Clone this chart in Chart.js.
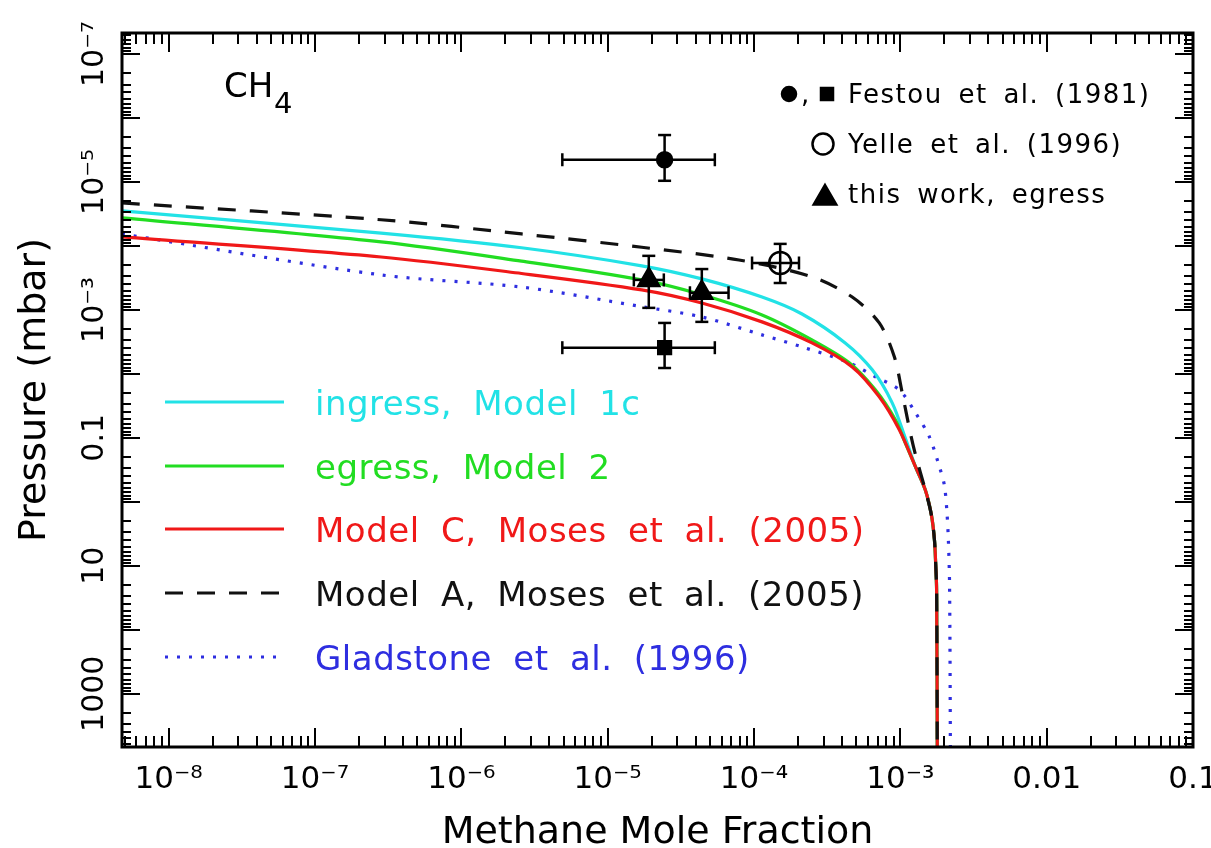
<!DOCTYPE html>
<html>
<head>
<meta charset="utf-8">
<title>CH4 profiles</title>
<script src="https://cdn.jsdelivr.net/npm/chart.js@4.4.1/dist/chart.umd.min.js"></script>
<style>
  html, body { margin: 0; padding: 0; background: #fff; }
  #wrap { width: 1211px; height: 848px; }
</style>
</head>
<body>
<div id="wrap"><canvas id="ch4" width="1211" height="848"></canvas></div>
<script>
// model profiles: methane mole fraction (x) against pressure in mbar (y)
const ingressX = [4.8e-9, 2.83e-7, 2.58e-6, 1.71e-5, 4.4e-5, 1.135e-4, 2.13e-4, 4.2e-4, 6.43e-4, 8.8e-4, 1.08e-3, 1.27e-3, 1.48e-3, 1.63e-3, 1.71e-3, 1.745e-3, 1.77e-3, 1.79e-3];
const ingressP = [2.84e-5, 6.3e-5, 1.07e-4, 2.05e-4, 3.28e-4, 6.3e-4, 1.16e-3, 3.28e-3, 8.66e-3, 0.0284, 0.1, 0.284, 0.65, 1.6, 3.9, 9.6, 23.7, 1e4];

const egressX = [4.8e-9, 2.83e-7, 2.58e-6, 1.71e-5, 4.4e-5, 1.135e-4, 2.49e-4, 4.48e-4, 6.75e-4, 9.25e-4, 1.08e-3, 1.27e-3, 1.48e-3, 1.63e-3, 1.71e-3, 1.745e-3, 1.77e-3, 1.79e-3];
const egressP = [3.65e-5, 8.66e-5, 1.73e-4, 3.4e-4, 5.8e-4, 1.2e-3, 2.94e-3, 6.7e-3, 0.0178, 0.0523, 0.12, 0.284, 0.65, 1.6, 3.9, 9.6, 23.7, 1e4];

const modelCX = [4.8e-9, 2.83e-7, 2.58e-6, 1.71e-5, 4.4e-5, 1.135e-4, 2.49e-4, 4.69e-4, 7.18e-4, 9.84e-4, 1.27e-3, 1.48e-3, 1.63e-3, 1.71e-3, 1.745e-3, 1.77e-3, 1.79e-3];
const modelCP = [7.2e-5, 1.49e-4, 2.7e-4, 4.87e-4, 7.8e-4, 1.54e-3, 3.28e-3, 7.8e-3, 0.0229, 0.075, 0.284, 0.65, 1.6, 3.9, 9.6, 23.7, 1e4];

const modelAX = [4.8e-9, 2.83e-7, 2.58e-6, 1.71e-5, 7.9e-5, 2.49e-4, 4.69e-4, 7.18e-4, 9.1e-4, 1.03e-3, 1.17e-3, 1.27e-3, 1.48e-3, 1.63e-3, 1.71e-3, 1.745e-3, 1.77e-3, 1.79e-3];
const modelAP = [2.13e-5, 3.9e-5, 6.5e-5, 1.05e-4, 1.66e-4, 3.05e-4, 6.3e-4, 1.6e-3, 5.4e-3, 0.0198, 0.0835, 0.185, 0.65, 1.6, 3.9, 9.6, 23.7, 1e4];

const gladX = [4.8e-9, 2.83e-7, 2.58e-6, 1.71e-5, 4.4e-5, 1.135e-4, 2.13e-4, 4.48e-4, 6.75e-4, 9.84e-4, 1.27e-3, 1.58e-3, 1.85e-3, 2.0e-3, 2.08e-3, 2.13e-3, 2.17e-3, 2.2e-3];
const gladP = [6.5e-5, 2.84e-4, 4.4e-4, 8.9e-4, 1.29e-3, 2.46e-3, 3.79e-3, 6.7e-3, 0.0111, 0.0178, 0.0407, 0.0964, 0.284, 0.55, 1.4, 4, 20, 1e4];

const curveNames = ['ingress, Model 1c', 'egress, Model 2', 'Model C, Moses et al. (2005)', 'Model A, Moses et al. (2005)', 'Gladstone et al. (1996)'];

// measurements with error bars
const festouX = [2.45e-5, 2.45e-5];
const festouP = [4.5e-6, 3.9e-3];
const festouXLo = [4.9e-6, 4.9e-6];
const festouXHi = [5.4e-5, 5.4e-5];
const festouPLo = [1.85e-6, 1.6e-3];
const festouPHi = [9.6e-6, 8.1e-3];

const yelleX = [1.51e-4];
const yelleP = [1.85e-4];
const yelleXLo = [9.7e-5];
const yelleXHi = [2.03e-4];
const yellePLo = [9.3e-5];
const yellePHi = [3.8e-4];

const egressObsX = [1.91e-5, 4.4e-5];
const egressObsP = [3.4e-4, 5.4e-4];
const egressObsXLo = [1.51e-5, 3.65e-5];
const egressObsXHi = [2.42e-5, 6.7e-5];
const egressObsPLo = [1.43e-4, 2.3e-4];
const egressObsPHi = [9.3e-4, 1.54e-3];

const xTickValues = [1e-8, 1e-7, 1e-6, 1e-5, 1e-4, 1e-3, 0.01, 0.1];
const xTickLabels = ['10⁻⁸', '10⁻⁷', '10⁻⁶', '10⁻⁵', '10⁻⁴', '10⁻³', '0.01', '0.1'];
const yTickValues = [1e-7, 1e-5, 1e-3, 0.1, 10, 1000];
const yTickLabels = ['10⁻⁷', '10⁻⁵', '10⁻³', '0.1', '10', '1000'];

const FONT = "'DejaVu Sans', 'Liberation Sans', sans-serif";

function pts(xs, ps) {
  return xs.map((x, i) => ({x: x, y: ps[i]}));
}

// lower order is painted on top: dashed Model A over Model C over the rest
function curve(name, xs, ps, color, dash, order) {
  return {
    label: name, data: pts(xs, ps), showLine: true, order: order,
    borderColor: color, borderWidth: 3.2, borderDash: dash, tension: 0.3,
    pointRadius: 0, pointHoverRadius: 0
  };
}

const barStyle = {
  showLine: true, order: 1, borderColor: '#000', borderWidth: 2.5,
  pointStyle: 'line', pointRadius: 6.5, pointHoverRadius: 6.5,
  pointBorderColor: '#000', pointBorderWidth: 2.5
};

function errorBars(xs, ps, xLo, xHi, pLo, pHi) {
  const out = [];
  xs.forEach((x, i) => {
    out.push(Object.assign({data: [{x: xLo[i], y: ps[i]}, {x: xHi[i], y: ps[i]}], pointRotation: 90}, barStyle));
    out.push(Object.assign({data: [{x: x, y: pLo[i]}, {x: x, y: pHi[i]}], pointRotation: 0}, barStyle));
  });
  return out;
}

function markers(data, style, radius, fill) {
  return {
    data: data, showLine: false, order: 0, pointStyle: style,
    pointRadius: radius, pointHoverRadius: radius,
    pointBackgroundColor: fill, pointBorderColor: '#000', pointBorderWidth: 2.5
  };
}

const curves = [
  curve(curveNames[0], ingressX, ingressP, '#22e2e6', [], 5),
  curve(curveNames[1], egressX, egressP, '#22dd22', [], 4),
  curve(curveNames[2], modelCX, modelCP, '#f01818', [], 3),
  curve(curveNames[3], modelAX, modelAP, '#111111', [18, 14], 2),
  curve(curveNames[4], gladX, gladP, '#2e2ee0', [3, 9], 6)
];

const datasets = [
  markers([pts(festouX, festouP)[0]], 'circle', 7.5, '#000'),
  markers([pts(festouX, festouP)[1]], 'rect', 9, '#000'),
  markers(pts(yelleX, yelleP), 'circle', 11, 'rgba(0,0,0,0)'),
  markers(pts(egressObsX, egressObsP), 'triangle', 12, '#000')
].concat(
  errorBars(festouX, festouP, festouXLo, festouXHi, festouPLo, festouPHi),
  errorBars(yelleX, yelleP, yelleXLo, yelleXHi, yellePLo, yellePHi),
  errorBars(egressObsX, egressObsP, egressObsXLo, egressObsXHi, egressObsPLo, egressObsPHi),
  curves
);

// frame and inward tick marks on all four sides
const frameTicks = {
  id: 'frameTicks',
  afterDatasetsDraw(chart) {
    const {ctx, chartArea: a, scales: {x, y}} = chart;
    ctx.save();
    ctx.strokeStyle = '#000';
    ctx.lineWidth = 2;
    ctx.beginPath();
    for (let e = -9; e <= 0; e++) {
      for (let m = 1; m < 10; m++) {
        const v = m * Math.pow(10, e);
        if (v < x.min * 0.9999 || v > x.max * 1.0001) continue;
        const px = Math.round(x.getPixelForValue(v));
        const len = m === 1 ? 19 : 11;
        ctx.moveTo(px, a.bottom); ctx.lineTo(px, a.bottom - len);
        ctx.moveTo(px, a.top); ctx.lineTo(px, a.top + len);
      }
    }
    for (let e = -8; e <= 4; e++) {
      for (let m = 1; m < 10; m++) {
        const v = m * Math.pow(10, e);
        if (v < y.min * 0.9999 || v > y.max * 1.0001) continue;
        const py = Math.round(y.getPixelForValue(v));
        const len = m === 1 ? 18 : 9;
        ctx.moveTo(a.left, py); ctx.lineTo(a.left + len, py);
        ctx.moveTo(a.right, py); ctx.lineTo(a.right - len, py);
      }
    }
    ctx.stroke();
    ctx.lineWidth = 3;
    ctx.strokeRect(a.left, a.top, a.right - a.left, a.bottom - a.top);
    ctx.restore();
  }
};

// in-plot keys and the species label
const keys = {
  id: 'keys',
  afterDraw(chart) {
    const ctx = chart.ctx;
    ctx.save();

    ctx.fillStyle = '#000';
    ctx.textBaseline = 'alphabetic';
    ctx.font = '34px ' + FONT;
    ctx.fillText('CH', 224, 97);
    ctx.font = '29px ' + FONT;
    ctx.fillText('4', 274, 113);

    // model curves key
    const rows = [402, 466, 529, 593, 657];
    ctx.font = '34px ' + FONT;
    if ('wordSpacing' in ctx) ctx.wordSpacing = '10px';
    if ('letterSpacing' in ctx) ctx.letterSpacing = '0.5px';
    curves.forEach((ds, i) => {
      ctx.strokeStyle = ds.borderColor;
      ctx.lineWidth = ds.borderWidth;
      ctx.setLineDash(ds.borderDash);
      ctx.beginPath();
      ctx.moveTo(165, rows[i]);
      ctx.lineTo(284, rows[i]);
      ctx.stroke();
      ctx.fillStyle = ds.borderColor;
      ctx.fillText(ds.label, 315, rows[i] + 12.5);
    });
    ctx.setLineDash([]);

    // observations key
    const dot = Chart.helpers.drawPoint;
    const mk = (style, r, fill, px, py) => {
      ctx.fillStyle = fill;
      ctx.strokeStyle = '#000';
      ctx.lineWidth = 2.5;
      dot(ctx, {pointStyle: style, radius: r, rotation: 0, borderWidth: 2.5}, px, py);
    };
    mk('circle', 7, '#000', 789, 94);
    mk('rect', 8.5, '#000', 827, 94);
    mk('circle', 10.5, 'rgba(0,0,0,0)', 823, 144);
    mk('triangle', 13, '#000', 825, 198);
    ctx.fillStyle = '#000';
    ctx.font = '26px ' + FONT;
    if ('wordSpacing' in ctx) ctx.wordSpacing = '6px';
    if ('letterSpacing' in ctx) ctx.letterSpacing = '1.5px';
    ctx.fillText(',', 801, 103);
    ctx.fillText('Festou et al. (1981)', 848, 103);
    ctx.fillText('Yelle et al. (1996)', 848, 153);
    ctx.fillText('this work, egress', 848, 203);
    ctx.restore();
  }
};

new Chart(document.getElementById('ch4'), {
  type: 'scatter',
  data: {datasets: datasets},
  options: {
    responsive: false,
    animation: false,
    events: [],
    layout: {padding: {top: 33, right: 18, bottom: 0, left: 0}},
    plugins: {legend: {display: false}, tooltip: {enabled: false}},
    scales: {
      x: {
        type: 'logarithmic', position: 'bottom', min: 4.8e-9, max: 0.1,
        grid: {display: false, drawTicks: false},
        border: {display: false},
        afterBuildTicks: (s) => { s.ticks = xTickValues.map(v => ({value: v})); },
        afterFit: (s) => { s.height = 101; s.paddingLeft = 0; s.paddingRight = 0; },
        ticks: {
          autoSkip: false, minRotation: 0, maxRotation: 0, padding: 14, color: '#000',
          font: {family: FONT, size: 31},
          callback: (v, i) => xTickLabels[i]
        },
        title: {
          display: true, text: 'Methane Mole Fraction', color: '#000', padding: 0,
          font: {family: FONT, size: 38, lineHeight: 0.8}
        }
      },
      y: {
        type: 'logarithmic', position: 'left', reverse: true, min: 4.7e-8, max: 6800,
        grid: {display: false, drawTicks: false},
        border: {display: false},
        afterBuildTicks: (s) => { s.ticks = yTickValues.map(v => ({value: v})); },
        afterFit: (s) => { s.width = 122; s.paddingTop = 0; s.paddingBottom = 0; },
        ticks: {
          autoSkip: false, minRotation: 90, maxRotation: 90, crossAlign: 'center', padding: -11,
          color: '#000', font: {family: FONT, size: 30},
          callback: (v, i) => yTickLabels[i]
        },
        title: {
          display: true, text: 'Pressure (mbar)', color: '#000',
          padding: {top: 12, bottom: 0},
          font: {family: FONT, size: 38}
        }
      }
    }
  },
  plugins: [frameTicks, keys]
});
</script>
</body>
</html>
